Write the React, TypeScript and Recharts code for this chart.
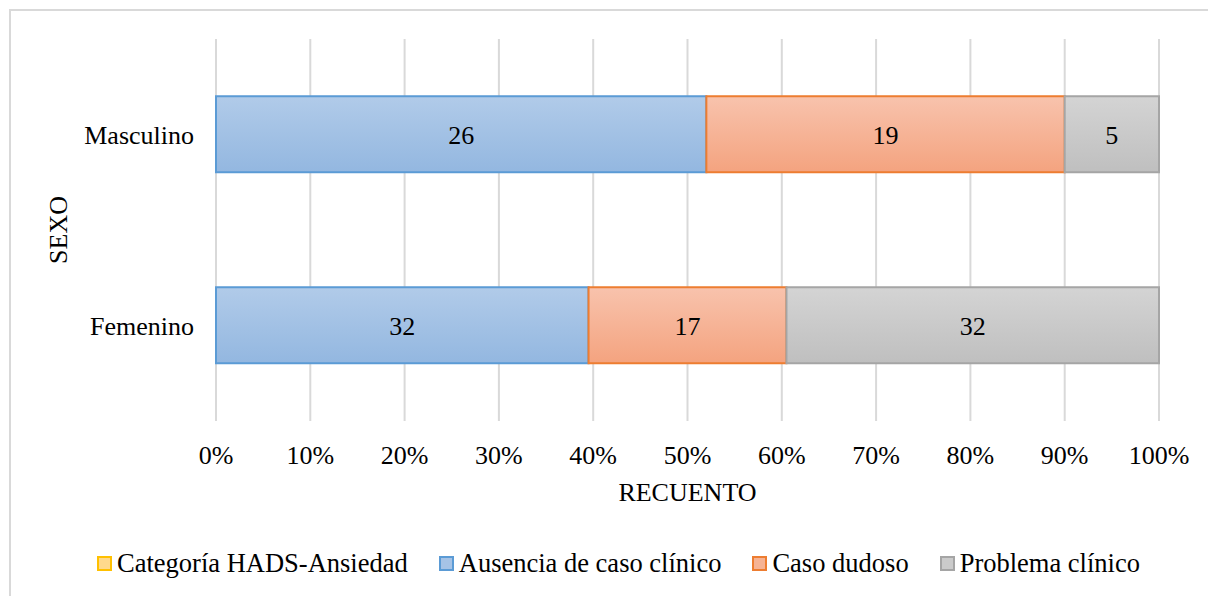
import React from "react";
import {
  Bar,
  BarChart,
  CartesianGrid,
  LabelList,
  Legend,
  XAxis,
  YAxis,
} from "recharts";

const categories = ["Masculino", "Femenino"];
const ausencia = [26, 32];
const dudoso = [19, 17];
const problema = [5, 32];
const percentTicks = [0, 10, 20, 30, 40, 50, 60, 70, 80, 90, 100];
const legendNames = [
  "Categoría HADS-Ansiedad",
  "Ausencia de caso clínico",
  "Caso dudoso",
  "Problema clínico",
];

const data = categories.map((sexo, i) => ({
  sexo,
  ausencia: ausencia[i],
  dudoso: dudoso[i],
  problema: problema[i],
}));

const FONT = "Liberation Serif, DejaVu Serif, serif";
const FS = 26;

const legendColors = [
  { fill: "#ffd98c", stroke: "#ffc000" },
  { fill: "#a6c3e6", stroke: "#5b9bd5" },
  { fill: "#f6b394", stroke: "#ed7d31" },
  { fill: "#cbcbcb", stroke: "#a5a5a5" },
];

const renderLegend = () => (
  <div
    style={{
      display: "flex",
      justifyContent: "center",
      alignItems: "center",
      height: 40,
      paddingLeft: 78,
      fontFamily: FONT,
      fontSize: 26.5,
      color: "#000",
    }}
  >
    {legendNames.map((name, i) => (
      <div
        key={name}
        style={{ display: "flex", alignItems: "center", marginRight: i < 3 ? 31 : 0 }}
      >
        <span
          style={{
            display: "inline-block",
            width: 11,
            height: 11,
            background: legendColors[i].fill,
            border: `2px solid ${legendColors[i].stroke}`,
            marginRight: 5,
          }}
        />
        <span>{name}</span>
      </div>
    ))}
  </div>
);

const renderXLabel = (props: any) => {
  const vb = props.viewBox;
  return (
    <text
      x={vb.x + vb.width / 2}
      y={vb.y + 80}
      textAnchor="middle"
      fontSize={FS}
      fontFamily={FONT}
      fill="#000"
    >
      RECUENTO
    </text>
  );
};

const renderYLabel = (props: any) => {
  const vb = props.viewBox;
  const cx = 58;
  const cy = vb.y + vb.height / 2;
  return (
    <text
      x={cx}
      y={cy}
      dy="0.35em"
      textAnchor="middle"
      fontSize={FS}
      fontFamily={FONT}
      fill="#000"
      transform={`rotate(-90, ${cx}, ${cy})`}
    >
      SEXO
    </text>
  );
};

export default function App() {
  return (
    <div
      style={{
        position: "absolute",
        left: 0,
        top: 0,
        width: 1208,
        height: 596,
        overflow: "hidden",
        background: "#fff",
        fontFamily: FONT,
      }}
    >
      <div
        style={{
          position: "absolute",
          left: 9,
          top: 9,
          width: 1300,
          height: 700,
          border: "2px solid #d9d9d9",
        }}
      />
      <div style={{ position: "absolute", left: 0, top: 0 }}>
        <BarChart
          width={1208}
          height={596}
          data={data}
          layout="vertical"
          stackOffset="expand"
          barCategoryGap="30%"
          margin={{ top: 39, right: 49, left: 0, bottom: 13 }}
          style={{ fontFamily: FONT }}
        >
          <defs>
            <linearGradient id="gBlue" x1="0" y1="0" x2="0" y2="1">
              <stop offset="0%" stopColor="#b1cbe9" />
              <stop offset="100%" stopColor="#93b7e0" />
            </linearGradient>
            <linearGradient id="gOrange" x1="0" y1="0" x2="0" y2="1">
              <stop offset="0%" stopColor="#f8c3ad" />
              <stop offset="100%" stopColor="#f4a37f" />
            </linearGradient>
            <linearGradient id="gGray" x1="0" y1="0" x2="0" y2="1">
              <stop offset="0%" stopColor="#d4d4d4" />
              <stop offset="100%" stopColor="#bfbfbf" />
            </linearGradient>
          </defs>
          <CartesianGrid horizontal={false} stroke="#d9d9d9" strokeWidth={2} />
          <XAxis
            type="number"
            domain={[0, 1]}
            ticks={percentTicks.map((t) => t / 100)}
            tickFormatter={(v: number) => `${Math.round(v * 100)}%`}
            axisLine={false}
            tickLine={false}
            tickMargin={19}
            height={122}
            interval={0}
            tick={{ fontSize: FS, fill: "#000", fontFamily: FONT }}
            label={{ content: renderXLabel }}
          />
          <YAxis
            type="category"
            dataKey="sexo"
            width={216}
            axisLine={false}
            tickLine={false}
            tickMargin={16}
            tick={{ fontSize: FS, fill: "#000", fontFamily: FONT }}
            label={{ content: renderYLabel }}
          />
          <Legend
            verticalAlign="bottom"
            content={renderLegend}
            wrapperStyle={{ height: 40 }}
          />
          <Bar
            dataKey="ausencia"
            name={legendNames[1]}
            stackId="a"
            fill="url(#gBlue)"
            stroke="#5b9bd5"
            strokeWidth={2}
            isAnimationActive={false}
          >
            <LabelList
              dataKey="ausencia"
              position="center"
              fill="#000"
              fontSize={FS}
              fontFamily={FONT}
            />
          </Bar>
          <Bar
            dataKey="dudoso"
            name={legendNames[2]}
            stackId="a"
            fill="url(#gOrange)"
            stroke="#ed7d31"
            strokeWidth={2}
            isAnimationActive={false}
          >
            <LabelList
              dataKey="dudoso"
              position="center"
              fill="#000"
              fontSize={FS}
              fontFamily={FONT}
            />
          </Bar>
          <Bar
            dataKey="problema"
            name={legendNames[3]}
            stackId="a"
            fill="url(#gGray)"
            stroke="#a5a5a5"
            strokeWidth={2}
            isAnimationActive={false}
          >
            <LabelList
              dataKey="problema"
              position="center"
              fill="#000"
              fontSize={FS}
              fontFamily={FONT}
            />
          </Bar>
        </BarChart>
      </div>
    </div>
  );
}
